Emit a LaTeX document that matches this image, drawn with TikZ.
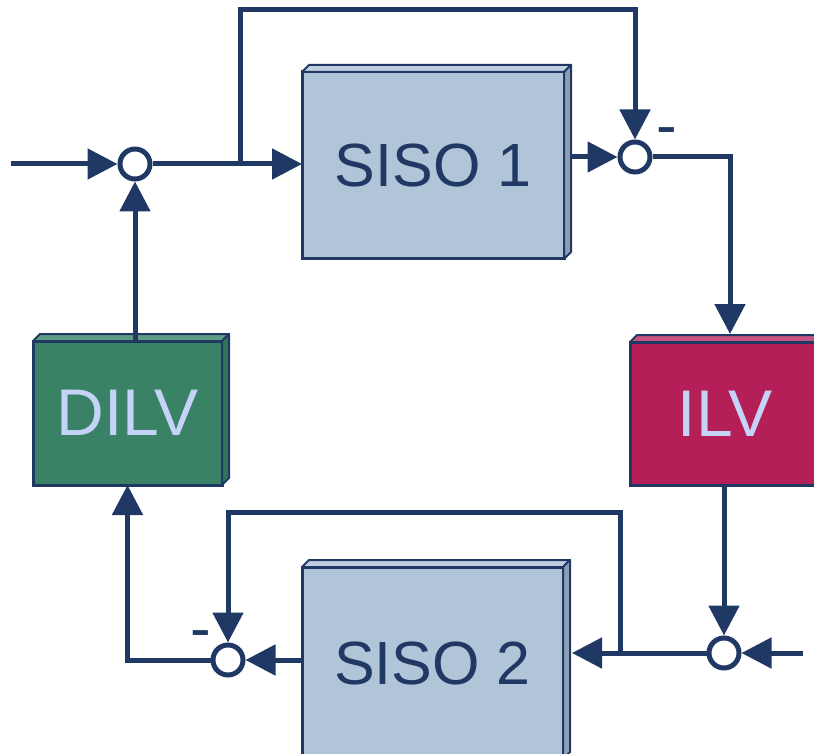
\documentclass[tikz,border=0pt]{standalone}
\usepackage{fontspec}
\setmainfont{Liberation Sans}
\usetikzlibrary{arrows.meta}
\definecolor{navy}{RGB}{31,56,100}
\definecolor{sisofill}{RGB}{176,197,215}
\definecolor{sisotop}{RGB}{192,208,224}
\definecolor{sisoside}{RGB}{141,158,178}
\definecolor{ilvfill}{RGB}{181,31,88}
\definecolor{ilvtop}{RGB}{198,84,128}
\definecolor{dilvfill}{RGB}{58,130,101}
\definecolor{dilvtop}{RGB}{96,156,131}
\definecolor{dilvside}{RGB}{50,116,90}
\definecolor{lav}{RGB}{197,211,248}

% front face is the node; top and right faces give the 3D look
\newcommand\extrude[3]{%
  \filldraw[draw=navy,line width=2pt,fill=#2,line join=round]
    (#1.north west) -- ++(7,-7) -- ([shift={(7,-7)}]#1.north east) -- (#1.north east) -- cycle;
  \filldraw[draw=navy,line width=2pt,fill=#3,line join=round]
    (#1.north east) -- ++(7,-7) -- ([shift={(7,-7)}]#1.south east) -- (#1.south east) -- cycle;
}

\begin{document}
\begin{tikzpicture}[x=1pt,y=-1pt,
  wire/.style={draw=navy,line width=5pt},
  arr/.style={wire,-{Triangle[length=30pt,width=30pt]}},
  junction/.style={circle,draw=navy,line width=5pt,fill=white,minimum size=30pt,inner sep=0pt},
  block/.style={draw=navy,line width=3pt,inner sep=0pt,outer sep=0pt},
  siso/.style={block,fill=sisofill,text=navy,font=\fontsize{61}{66}\selectfont},
  loopblock/.style={block,text=lav,font=\fontsize{66}{72}\selectfont},
  sign/.style={text=navy,inner sep=0pt,font=\fontsize{62}{66}\selectfont},
]
\useasboundingbox (0,0) rectangle (814,754);
\clip (0,0) rectangle (814,754);

% blocks
\node[siso,minimum width=262pt,minimum height=187pt] (s1) at (433,165.5) {SISO 1};
\extrude{s1}{sisotop}{sisoside}
\node[siso,minimum width=261pt,minimum height=192pt] (s2) at (432.5,663) {SISO 2};
\extrude{s2}{sisotop}{sisoside}
\node[loopblock,fill=ilvfill,minimum width=190pt,minimum height=143pt] (ilv) at (725,413.5) {ILV};
\extrude{ilv}{ilvtop}{ilvfill}
\node[loopblock,fill=dilvfill,minimum width=189pt,minimum height=144pt] (dilv) at (127.5,413) {DILV};
\extrude{dilv}{dilvtop}{dilvside}

% summing junctions
\node[junction] (j1) at (135,164) {};
\node[junction] (j2) at (635,157) {};
\node[junction] (j3) at (228,660) {};
\node[junction] (j4) at (724,653) {};

% signs
\node[sign] (m2) at (667,137) {-};
\node[sign] (m3) at (201,640) {-};

% free ends and bends
\coordinate (in1) at (11,164);
\coordinate (b1) at (240,164);
\coordinate (t1) at (240,10);
\coordinate (ilvin) at (730,334);
\coordinate (in4) at (803,653);
\coordinate (b2) at (620,653);
\coordinate (t3) at (620,512);

% connectors
\draw[arr] (in1) -- (j1);
\draw[arr] (j1) -- (j1 -| s1.west);
\draw[arr] (b1) -- (t1) -| (j2);
\draw[arr] ([xshift=8]s1.east |- j2) -- (j2);
\draw[arr] (j2) -| (ilvin);
\draw[arr] (ilv.south -| j4) -- (j4);
\draw[arr] (in4) -- (j4);
\draw[arr] (j4) -- ([xshift=9]s2.east |- j4);
\draw[arr] (b2) -- (t3) -| (j3);
\draw[arr] (s2.west |- j3) -- (j3);
\draw[arr] (j3) -| (dilv.south);
\draw[arr] (dilv.north -| j1) -- (j1);
\end{tikzpicture}
\end{document}
